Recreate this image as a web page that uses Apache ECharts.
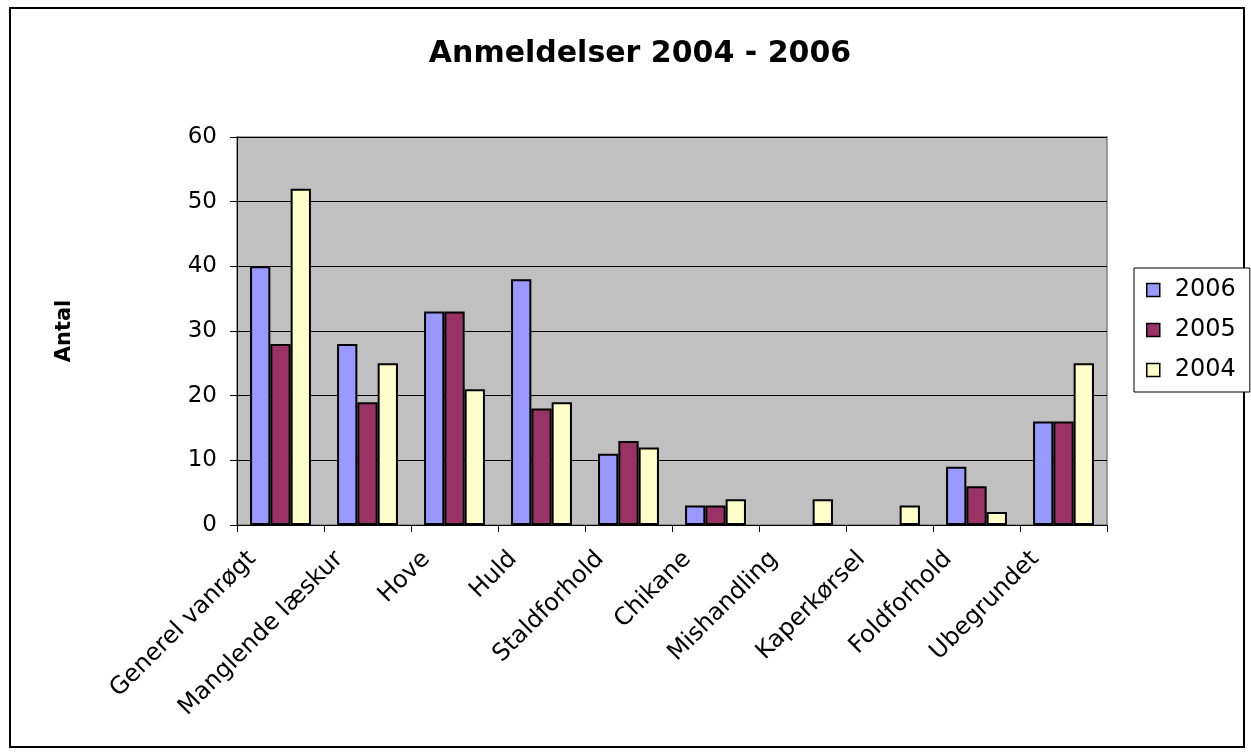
<!DOCTYPE html>
<html><head><meta charset="utf-8">
<script src="https://cdn.jsdelivr.net/npm/echarts@6/dist/echarts.min.js"></script>
<style>html,body{margin:0;padding:0;background:#fff}#c{width:1251px;height:753px}</style>
</head><body><div id="c"></div>
<script>
const categories = ['Generel vanrøgt','Manglende læskur','Hove','Huld','Staldforhold','Chikane','Mishandling','Kaperkørsel','Foldforhold','Ubegrundet'];
const s2006 = [40,28,33,38,11,3,0,0,9,16];
const s2005 = [28,19,33,18,13,3,0,0,6,16];
const s2004 = [52,25,21,19,12,4,4,3,2,25];
const seriesNames = ['2006','2005','2004'];
const colors = ['#9999FF','#993366','#FFFFCC'];
const yTicks = [0,10,20,30,40,50,60];

const chart = echarts.init(document.getElementById('c'));
const font = 'DejaVu Sans, Liberation Sans, Arial, sans-serif';
const data = [s2006, s2005, s2004];
chart.setOption({
  animation:false,
  textStyle:{fontFamily:font},
  title:{text:'Anmeldelser 2004 - 2006',left:635,textAlign:'center',top:34,textStyle:{fontFamily:font,fontSize:30,fontWeight:'bold',color:'#000'}},
  graphic:[{type:'rect',shape:{x:10,y:8,width:1234,height:739},style:{fill:'none',stroke:'#000',lineWidth:2},silent:true}],
  legend:{orient:'vertical',left:1134,top:268,padding:[10,14,10,12],itemGap:16,itemWidth:13,itemHeight:13,
    borderColor:'#000',borderWidth:1,backgroundColor:'#fff',
    textStyle:{fontFamily:font,fontSize:24,color:'#000',padding:[0,0,0,10]},
    itemStyle:{borderColor:'#000',borderWidth:1.5},
    data:seriesNames.map(n=>({name:n,icon:'rect'}))},
  grid:{left:237,right:144,top:137,bottom:228,show:true,backgroundColor:'#C0C0C0',borderColor:'#808080',borderWidth:1.5},
  xAxis:{type:'category',data:categories,
    axisLine:{lineStyle:{color:'#000',width:1}},
    axisTick:{show:true,length:7,lineStyle:{color:'#000'}},
    axisLabel:{rotate:45,fontSize:24,color:'#000',fontFamily:font,margin:2,interval:0,padding:[0,40,0,0]}},
  yAxis:{type:'value',min:yTicks[0],max:yTicks[yTicks.length-1],interval:10,
    name:'Antal',nameLocation:'middle',nameGap:162,nameRotate:90,
    nameTextStyle:{fontFamily:font,fontSize:21,fontWeight:'bold',color:'#000'},
    axisLine:{show:true,lineStyle:{color:'#000'}},
    axisTick:{show:true,length:7,lineStyle:{color:'#000'}},
    axisLabel:{fontSize:23,color:'#000',fontFamily:font,margin:20},
    splitLine:{lineStyle:{color:'#000',width:1}}},
  series:seriesNames.map((n,i)=>({name:n,type:'bar',
    data:data[i].map(v=>v===0?{value:v,itemStyle:{borderWidth:0}}:v),
    barGap:'0%',barCategoryGap:'30%',
    itemStyle:{color:colors[i],borderColor:'#000',borderWidth:2}}))
});
</script></body></html>
